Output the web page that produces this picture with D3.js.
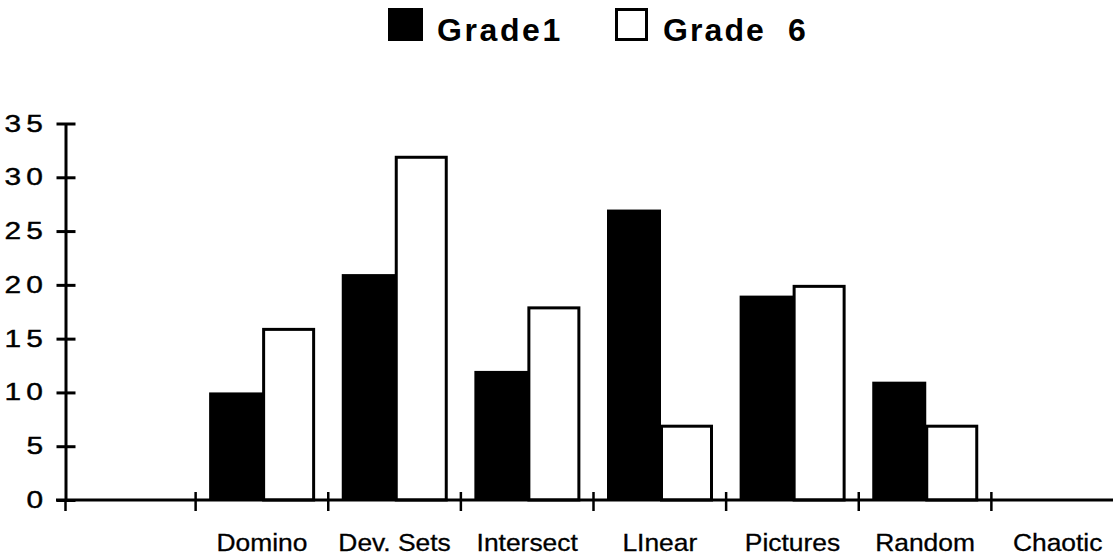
<!DOCTYPE html>
<html>
<head>
<meta charset="utf-8">
<script src="https://cdn.jsdelivr.net/npm/d3@7"></script>
<style>
  html, body { margin: 0; padding: 0; background: #fff; }
  svg { display: block; }
  text { font-family: "Liberation Sans", Arial, Helvetica, sans-serif; fill: #000; }
</style>
</head>
<body>
<svg id="chart" width="1117" height="559"></svg>
<script>
// Task categories along the x axis (the first slot is left blank)
const categories = ["", "Domino", "Dev. Sets", "Intersect", "LInear", "Pictures", "Random", "Chaotic"];
// Counts per category for each grade
const grade1 = [null, 10, 21, 12, 27, 19, 11, null];
const grade6 = [null, 16, 32, 18, 7, 20, 7, null];
const seriesNames = ["Grade1", "Grade 6"];
const yTicks = [0, 5, 10, 15, 20, 25, 30, 35];

const svg = d3.select("#chart");

const x0 = d3.scaleBand().domain(categories.map((c, i) => i)).range([63, 1124]).padding(0);
const step = x0.step();
const x1 = d3.scaleBand().domain(seriesNames).range([13.5, 119.5]).padding(0);
const y = d3.scaleLinear().domain([0, 35]).range([500, 123.5]);

// text drawn with a horizontal stretch
function stretchedText(g, x, yy, str, opts) {
  const sx = opts.sx || 1;
  return g.append("g")
    .attr("transform", `translate(${x},${yy}) scale(${sx},1)`)
    .append("text")
    .attr("x", 0).attr("y", 0)
    .attr("text-anchor", opts.anchor || "start")
    .style("font-size", opts.size + "px")
    .style("font-weight", opts.weight || "normal")
    .style("letter-spacing", (opts.ls || 0) + "px")
    .style("white-space", "pre")
    .style("stroke", "#000")
    .style("stroke-width", (opts.sw || 0) + "px")
    .text(str);
}

// Bars
const rows = categories.map((c, i) => ({ i, values: [grade1[i], grade6[i]] }));
const groups = svg.append("g").selectAll("g")
  .data(rows).join("g")
  .attr("transform", d => `translate(${x0(d.i)},0)`);

groups.selectAll("rect")
  .data(d => d.values.map((v, k) => ({ key: seriesNames[k], v, k })).filter(e => e.v != null))
  .join("rect")
  .attr("x", e => e.k === 0 ? x1(e.key) : x1(e.key) + 1.5)
  .attr("width", e => e.k === 0 ? x1.bandwidth() + 1 : x1.bandwidth() - 3)
  .attr("y", e => e.k === 0 ? y(e.v) : y(e.v) + 1.5)
  .attr("height", e => e.k === 0 ? y(0) - y(e.v) : y(0) - y(e.v) - 1.5)
  .attr("fill", e => e.k === 0 ? "#000" : "#fff")
  .attr("stroke", e => e.k === 0 ? "none" : "#000")
  .attr("stroke-width", 3);

// Y axis
const yAxis = d3.axisLeft(y).tickValues(yTicks).tickSizeInner(9).tickSizeOuter(0).tickFormat("");
const yg = svg.append("g").attr("transform", "translate(65.5,0)").call(yAxis);
yg.select(".domain").attr("stroke", "#000").attr("stroke-width", 3);
yg.selectAll(".tick line").attr("x1", 10).attr("stroke", "#000").attr("stroke-width", 3);

// Y tick labels
yTicks.forEach(v => {
  stretchedText(svg, 43 + 4 * 1.3, y(v) + 8, String(v), { size: 23, sx: 1.3, anchor: "end", ls: 4, sw: 0.4 });
});

// X axis
svg.append("line")
  .attr("x1", 56).attr("x2", 1113)
  .attr("y1", 500).attr("y2", 500)
  .attr("stroke", "#000").attr("stroke-width", 3);
const bounds = categories.slice(1).map((c, i) => x0(i + 1));
svg.append("g").selectAll("line")
  .data([65.5].concat(bounds)).join("line")
  .attr("x1", d => d).attr("x2", d => d)
  .attr("y1", (d, i) => i === 0 ? 500 : 492).attr("y2", 511)
  .attr("stroke", "#000").attr("stroke-width", 2.5);

// Category labels
categories.forEach((c, i) => {
  if (!c) return;
  stretchedText(svg, x0(i) + step / 2, 551, c, { size: 24, sx: 1.1, anchor: "middle", sw: 0.3 });
});

// Legend
svg.append("rect").attr("x", 388).attr("y", 8).attr("width", 35).attr("height", 33).attr("fill", "#000");
stretchedText(svg, 437, 41, seriesNames[0], { size: 32, weight: "bold", ls: 2.6 });
svg.append("rect").attr("x", 616.5).attr("y", 9.5).attr("width", 30).attr("height", 30)
  .attr("fill", "#fff").attr("stroke", "#000").attr("stroke-width", 3);
stretchedText(svg, 663, 41, "Grade  6", { size: 32, weight: "bold", ls: 2.1 });
</script>
</body>
</html>
